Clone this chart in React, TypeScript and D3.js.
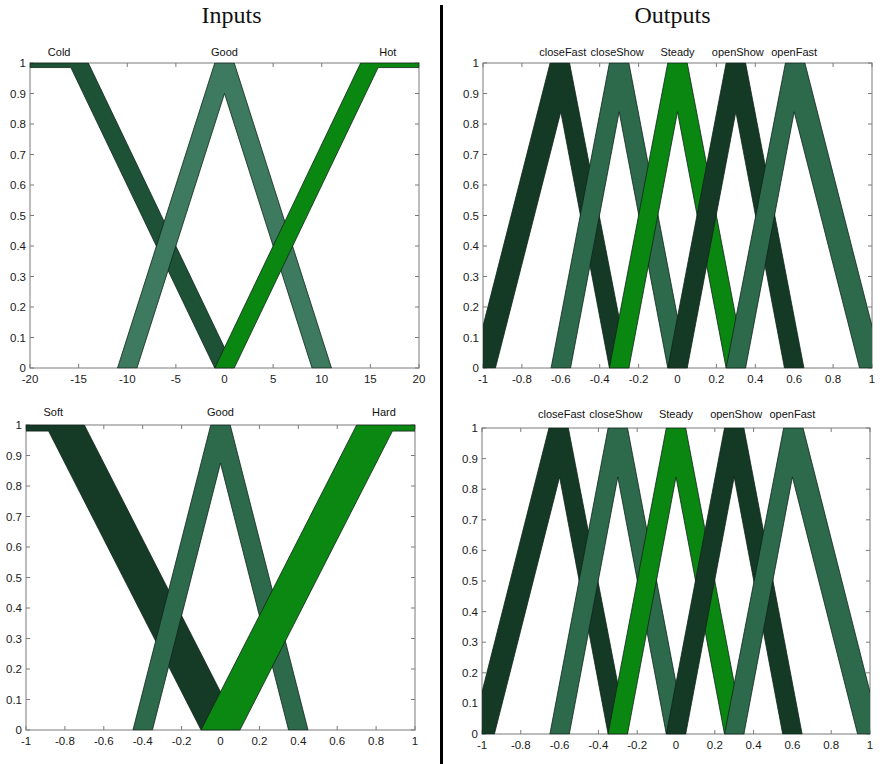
import React from "react";
import * as d3 from "d3";

type Trap = [number, number, number, number];

// ---- Temperature input (top left) ----
const tempNames = ["Cold", "Good", "Hot"];
const tempLabelX = [-17, 0, 16.8];
const tempUpper: Trap[] = [
  [-20, -20, -14, 1],
  [-11, -1, 1, 11],
  [-1, 14, 20, 20],
];
const tempLower: Trap[] = [
  [-20, -20, -15.8, -1],
  [-9, 0, 0, 9],
  [1, 15.8, 20, 20],
];
const tempLowerHeight = [0.985, 0.9, 0.985];
const tempColors = ["#1d5236", "#3e7a5f", "#0a8710"];
const tempTicks = [-20, -15, -10, -5, 0, 5, 10, 15, 20];

// ---- Hardness input (bottom left) ----
const hardNames = ["Soft", "Good", "Hard"];
const hardLabelX = [-0.86, 0, 0.84];
const hardUpper: Trap[] = [
  [-1, -1, -0.7, 0.1],
  [-0.45, -0.05, 0.05, 0.45],
  [-0.1, 0.7, 1, 1],
];
const hardLower: Trap[] = [
  [-1, -1, -0.884, -0.1],
  [-0.35, 0, 0, 0.35],
  [0.1, 0.884, 1, 1],
];
const hardLowerHeight = [0.98, 0.875, 0.98];
const hardColors = ["#153b27", "#2c6a4b", "#0b8811"];

// ---- Valve output (right column, both panels) ----
const valveNames = ["closeFast", "closeShow", "Steady", "openShow", "openFast"];
const valveLabelX = [-0.59, -0.31, 0, 0.31, 0.6];
const valveUpper: Trap[] = [
  [-1.055, -0.655, -0.555, -0.25],
  [-0.65, -0.35, -0.25, 0.05],
  [-0.35, -0.05, 0.05, 0.35],
  [-0.05, 0.25, 0.35, 0.65],
  [0.25, 0.555, 0.655, 1.055],
];
const valveLower: Trap[] = [
  [-0.936, -0.6, -0.6, -0.35],
  [-0.55, -0.3, -0.3, -0.05],
  [-0.25, 0, 0, 0.25],
  [0.05, 0.3, 0.3, 0.55],
  [0.35, 0.6, 0.6, 0.936],
];
const valveLowerHeight = [0.84, 0.84, 0.84, 0.84, 0.84];
const valveColors = ["#143a26", "#2c6a4b", "#0a8710", "#143a26", "#2c6a4b"];

const unitTicks = [-1, -0.8, -0.6, -0.4, -0.2, 0, 0.2, 0.4, 0.6, 0.8, 1];
const gradeTicks = [0, 0.1, 0.2, 0.3, 0.4, 0.5, 0.6, 0.7, 0.8, 0.9, 1];

const sans = "'Liberation Sans', Arial, sans-serif";
const serif = "'Liberation Serif', 'Times New Roman', serif";

// Corner points of a trapezoidal membership function scaled to height h
function trapVertices(p: Trap, h: number): [number, number][] {
  const [a, b, c, d] = p;
  const pts: [number, number][] = [];
  if (a < b) pts.push([a, 0]);
  pts.push([b, h]);
  if (c > b) pts.push([c, h]);
  if (d > c) pts.push([d, 0]);
  return pts;
}

type PanelProps = {
  id: string;
  left: number;
  top: number;
  width: number;
  height: number;
  domain: [number, number];
  xTicks: number[];
  names: string[];
  labelX: number[];
  upper: Trap[];
  lower: Trap[];
  lowerHeight: number[];
  colors: string[];
  labelGap: number;
};

function Panel(p: PanelProps) {
  const x = d3.scaleLinear().domain(p.domain).range([p.left, p.left + p.width]);
  const y = d3.scaleLinear().domain([0, 1]).range([p.top + p.height, p.top]);
  const line = d3
    .line<[number, number]>()
    .x((d) => x(d[0]))
    .y((d) => y(d[1]))
    .curve(d3.curveLinearClosed);
  const tick = 4;
  const frame = "#7a7a7a";
  const fmt = (v: number) => String(+v.toFixed(2));
  return (
    <g>
      <defs>
        <clipPath id={p.id}>
          <rect x={p.left} y={p.top - 0.5} width={p.width} height={p.height + 1} />
        </clipPath>
      </defs>
      <rect x={p.left} y={p.top} width={p.width} height={p.height} fill="#fff" stroke={frame} strokeWidth={1} />
      {p.xTicks.map((t) => (
        <g key={"x" + t}>
          <line x1={x(t)} x2={x(t)} y1={p.top + p.height} y2={p.top + p.height - tick} stroke={frame} />
          <line x1={x(t)} x2={x(t)} y1={p.top} y2={p.top + tick} stroke={frame} />
          <text x={x(t)} y={p.top + p.height + 15} textAnchor="middle" fontFamily={sans} fontSize={11.5} fill="#1a1a1a">
            {fmt(t)}
          </text>
        </g>
      ))}
      {gradeTicks.map((t) => (
        <g key={"y" + t}>
          <line x1={p.left} x2={p.left + tick} y1={y(t)} y2={y(t)} stroke={frame} />
          <line x1={p.left + p.width} x2={p.left + p.width - tick} y1={y(t)} y2={y(t)} stroke={frame} />
          <text x={p.left - 4} y={y(t) + 4} textAnchor="end" fontFamily={sans} fontSize={11.5} fill="#1a1a1a">
            {fmt(t)}
          </text>
        </g>
      ))}
      <g clipPath={`url(#${p.id})`}>
        {p.upper.map((u, i) => {
          const pts = [...trapVertices(u, 1), ...trapVertices(p.lower[i], p.lowerHeight[i]).reverse()];
          return <path key={i} d={line(pts) || ""} fill={p.colors[i]} stroke="#10241a" strokeWidth={0.8} strokeLinejoin="round" />;
        })}
      </g>
      {p.names.map((n, i) => (
        <text key={n} x={x(p.labelX[i])} y={p.top - p.labelGap} textAnchor="middle" fontFamily={sans} fontSize={11} fill="#111">
          {n}
        </text>
      ))}
    </g>
  );
}

export default function App() {
  return (
    <svg width={880} height={764} style={{ display: "block", position: "absolute", left: 0, top: 0, background: "#fff" }}>
      <rect x={0} y={0} width={880} height={764} fill="#fff" />
      <text x={231.5} y={23} textAnchor="middle" fontFamily={serif} fontSize={24} fill="#111">
        Inputs
      </text>
      <text x={672.5} y={23} textAnchor="middle" fontFamily={serif} fontSize={24} fill="#111">
        Outputs
      </text>
      <line x1={441.5} x2={441.5} y1={5} y2={764} stroke="#000" strokeWidth={3} />
      <Panel
        id="clip-temp"
        left={30}
        top={63}
        width={389}
        height={305}
        domain={[-20, 20]}
        xTicks={tempTicks}
        names={tempNames}
        labelX={tempLabelX}
        upper={tempUpper}
        lower={tempLower}
        lowerHeight={tempLowerHeight}
        colors={tempColors}
        labelGap={7}
      />
      <Panel
        id="clip-hard"
        left={26}
        top={425}
        width={389}
        height={305}
        domain={[-1, 1]}
        xTicks={unitTicks}
        names={hardNames}
        labelX={hardLabelX}
        upper={hardUpper}
        lower={hardLower}
        lowerHeight={hardLowerHeight}
        colors={hardColors}
        labelGap={9}
      />
      <Panel
        id="clip-valve-a"
        left={483}
        top={63}
        width={389}
        height={305}
        domain={[-1, 1]}
        xTicks={unitTicks}
        names={valveNames}
        labelX={valveLabelX}
        upper={valveUpper}
        lower={valveLower}
        lowerHeight={valveLowerHeight}
        colors={valveColors}
        labelGap={7}
      />
      <Panel
        id="clip-valve-b"
        left={482}
        top={428}
        width={388}
        height={306}
        domain={[-1, 1]}
        xTicks={unitTicks}
        names={valveNames}
        labelX={valveLabelX}
        upper={valveUpper}
        lower={valveLower}
        lowerHeight={valveLowerHeight}
        colors={valveColors}
        labelGap={10}
      />
    </svg>
  );
}
